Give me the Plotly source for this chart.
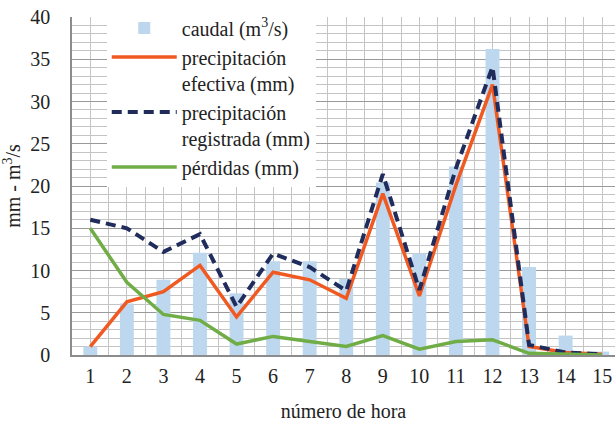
import plotly.graph_objects as go

horas = list(range(1, 16))
caudal = [1.0, 6.1, 8.9, 12.1, 7.3, 11.1, 11.1, 9.0, 20.4, 12.0, 22.3, 36.2, 10.4, 2.3, 0.4]
p_efectiva = [1.0, 6.3, 7.5, 10.6, 4.5, 9.8, 8.9, 6.7, 19.1, 7.0, 20.1, 32.0, 1.0, 0.3, 0.1]
p_registrada = [16.0, 15.0, 12.2, 14.3, 5.7, 12.0, 10.4, 7.6, 21.4, 7.7, 22.1, 34.1, 1.2, 0.3, 0.1]
perdidas = [15.0, 8.6, 4.8, 4.1, 1.3, 2.2, 1.6, 1.0, 2.3, 0.7, 1.6, 1.8, 0.2, 0.1, 0.0]

font = "Liberation Serif"
fs = 20

fig = go.Figure()
fig.add_trace(go.Bar(x=horas, y=caudal, name="caudal (m<sup>3</sup>/s)",
                     marker=dict(color="#BDD7EE", line=dict(width=0)), width=0.38))
fig.add_trace(go.Scatter(x=horas, y=p_efectiva, mode="lines",
                         name="precipitación<br>efectiva (mm)",
                         line=dict(color="#F05A22", width=3.5)))
fig.add_trace(go.Scatter(x=horas, y=p_registrada, mode="lines",
                         name="precipitación<br>registrada (mm)",
                         line=dict(color="#1F2C5C", width=4, dash="10px,6px")))
fig.add_trace(go.Scatter(x=horas, y=perdidas, mode="lines",
                         name="pérdidas (mm)",
                         line=dict(color="#70AD47", width=3.5)))

fig.update_layout(
    width=615, height=422,
    margin=dict(l=72, r=0, t=17, b=67),
    paper_bgcolor="white", plot_bgcolor="white",
    font=dict(family=font, size=fs, color="#222"),
    showlegend=True,
    legend=dict(x=0.064, y=1.025, xanchor="left", yanchor="top",
                bgcolor="white", borderwidth=0, valign="top",
                font=dict(family=font, size=fs, color="#222"),
                itemwidth=65),
    xaxis=dict(range=[0.5, 15.35], tickmode="array", tickvals=horas,
               ticktext=[str(h) for h in horas], automargin=False,
               showgrid=True, gridcolor="#C4C4C4", gridwidth=1,
               minor=dict(tickmode="linear", tick0=0.5, dtick=1, showgrid=True,
                          gridcolor="#C4C4C4", gridwidth=1),
               showline=True, linecolor="#8C8C8C", linewidth=1.5,
               ticks="", ticklabelstandoff=2,
               title=dict(text="número de hora", standoff=18,
                          font=dict(family=font, size=fs)),
               zeroline=False),
    yaxis=dict(range=[0, 40], dtick=5, tick0=0, automargin=False,
               showgrid=True, gridcolor="#9A9A9A", gridwidth=1,
               minor=dict(dtick=1, tick0=0, showgrid=True,
                          gridcolor="#C4C4C4", gridwidth=1),
               showline=True, linecolor="#8C8C8C", linewidth=1.5,
               ticks="", ticklabelstandoff=16,
               title=dict(text="mm - m<sup>3</sup>/s", standoff=4,
                          font=dict(family=font, size=fs)),
               zeroline=False),
    bargap=0.6,
)

fig.write_html("out.html", config={"displayModeBar": False},
               post_script="document.body.style.margin='0';document.body.style.overflow='hidden';")
